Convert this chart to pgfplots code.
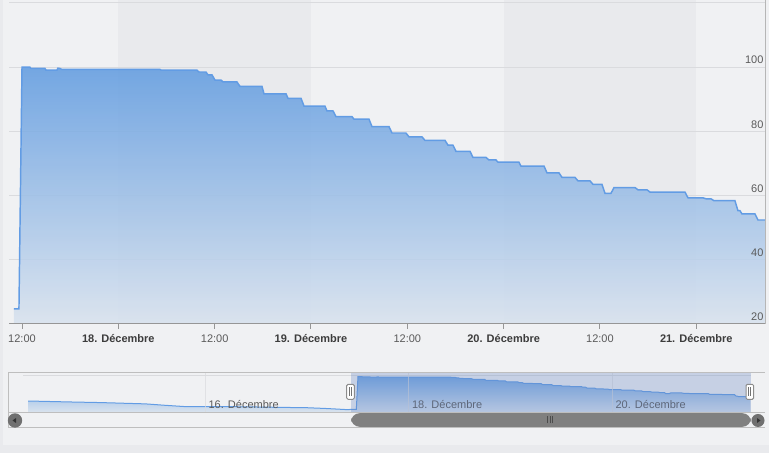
\documentclass[border=0pt]{standalone}
\usepackage{pgfplots}
\pgfplotsset{compat=1.18}
\usepackage{pgfplotstable}
\usepackage{fontspec}
\setmainfont{Liberation Sans}

\definecolor{bglight}{RGB}{240,241,243}
\definecolor{bgband}{RGB}{233,234,237}
\definecolor{gridc}{RGB}{218,219,222}
\definecolor{linec}{RGB}{98,156,228}
\definecolor{topc}{RGB}{94,154,224}
\definecolor{botc}{RGB}{216,226,238}
\definecolor{axisc}{RGB}{150,150,150}
\definecolor{labc}{RGB}{90,90,90}
\definecolor{boldc}{RGB}{60,60,60}
\definecolor{maskc}{RGB}{102,133,194}
\definecolor{scrollc}{RGB}{128,128,128}
\definecolor{btnc}{RGB}{112,112,112}
\definecolor{outc}{RGB}{190,190,190}

\newcommand{\fs}{\fontsize{8.25}{9.9}\selectfont}

% hours since 17 Dec 00:00, value
\pgfplotstableread{
h v
11.00 24.7
11.62 24.7
12.00 100
12.99 100
13.12 99.6
14.86 99.6
14.99 99.1
16.36 99.1
16.48 99.7
16.73 99.6
16.98 99.3
29.19 99.3
29.31 99.1
33.80 99.1
34.05 98.5
34.92 98.5
35.17 97.6
35.67 97.6
36.04 96.0
36.79 96.0
37.04 95.4
38.78 95.4
39.16 94.0
41.90 94.0
42.15 91.7
44.89 91.7
45.14 90.3
46.76 90.3
47.13 87.9
49.74 87.9
49.99 86.4
50.74 86.4
51.11 84.6
53.11 84.6
53.36 83.8
55.23 83.8
55.60 81.5
57.72 81.5
58.09 79.5
59.83 79.5
60.21 78.3
61.83 78.3
62.20 77.2
64.70 77.2
65.07 75.7
65.69 75.7
66.06 73.8
67.81 73.8
68.18 71.9
69.80 71.9
70.17 71.1
71.05 71.1
71.30 70.4
73.91 70.4
74.16 69.2
77.03 69.2
77.40 67.1
78.89 67.1
79.27 65.7
80.88 65.7
81.26 64.6
82.76 64.6
83.13 63.5
84.25 63.5
84.63 60.7
85.37 60.7
85.75 62.5
88.36 62.5
88.74 61.8
89.86 61.8
90.23 61.1
94.59 61.1
94.97 59.3
96.84 59.3
97.21 59.0
97.83 59.0
98.21 58.4
100.82 58.4
101.19 55.3
101.44 55.3
101.69 54.3
103.31 54.3
103.69 52.4
104.56 52.4
}\maintab

% earlier history, only seen in the navigator
\pgfplotstableread{
h v
-65.8 43.9
-55.0 41.5
-48.8 40.3
-38.2 37.3
-33.5 34.0
-28.8 31.0
-22.0 31.2
-14.0 30.4
-7.1 29.3
0.0 28.4
4.7 26.5
9.4 24.0
}\navtab
\pgfplotstablevertcat{\navtab}{\maintab}

\begin{document}
\begin{tikzpicture}
\begin{scope}[x=0.75pt,y=0.75pt]
\fill[bglight] (0,0) rectangle (769,453);
\fill[bgband] (118.3,129) rectangle (311.3,453);
\fill[bgband] (504.3,129) rectangle (696.3,453);
\fill[bgband] (0,0) rectangle (769,8);
\fill[bgband] (0,8) rectangle (3,453);
% horizontal grid of the main chart (40 ... 120)
\foreach \gy in {193.2,257.4,321.6,385.8,450}
  \draw[gridc, line width=0.75pt] (9,\gy) -- (765,\gy);
\draw[gridc, line width=0.75pt] (23,77) -- (751,77);
\end{scope}

% main chart
\begin{axis}[
    at={(6.75pt,96.75pt)}, anchor=south west, scale only axis,
    width=567pt, height=240.75pt,
    xmin=10.38, xmax=104.56, ymin=20, ymax=120,
    axis on top,
    axis line style={draw=none},
    ytick={20,40,...,120},
    yticklabel pos=right,
    ytick style={draw=none},
    yticklabel style={anchor=south east, inner sep=0pt, xshift=-4.75pt, yshift=2.25pt,
                      text=labc, font=\fs},
    /pgf/number format/assume math mode=true,
    xtick={12,24,...,96},
    xticklabels={12:00, \textbf{\color{boldc}18. Décembre}, 12:00,
                 \textbf{\color{boldc}19. Décembre}, 12:00,
                 \textbf{\color{boldc}20. Décembre}, 12:00,
                 \textbf{\color{boldc}21. Décembre}},
    xtick pos=bottom, tick align=outside, major tick length=3.75pt,
    xtick style={axisc, line width=0.75pt},
    xticklabel style={text=labc, font=\fs, anchor=base, inner sep=0pt, yshift=-10.5pt},
]
\addplot[draw=none, top color=topc, bottom color=botc, fill opacity=0.85]
    table[x=h, y=v] {\maintab} -- (axis cs:104.56,20) -- (axis cs:11.0,20) -- cycle;
\addplot[linec, line width=1.1pt] table[x=h, y=v] {\maintab};
\end{axis}

% navigator
\begin{axis}[
    at={(17.25pt,30.225pt)}, anchor=south west, scale only axis,
    width=546pt, height=29.55pt,
    xmin=-67, xmax=104.7, ymin=16.9, ymax=107.9,
    axis on top,
    axis line style={draw=none},
    ytick=\empty,
    xtick={-24,24,72},
    xticklabels={16. Décembre, 18. Décembre, 20. Décembre},
    xmajorgrids, grid style={gridc, line width=0.6pt, opacity=0.7},
    major tick length=0pt,
    xticklabel style={text=labc, font=\fs, anchor=base west, inner sep=0pt,
                      xshift=2.25pt, yshift=2.8pt},
]
\addplot[draw=none, top color=topc, bottom color=botc, fill opacity=0.85]
    table[x=h, y=v] {\navtab} -- (axis cs:104.56,16.9) -- (axis cs:-65.8,16.9) -- cycle;
\addplot[linec, line width=0.75pt] table[x=h, y=v] {\navtab};
\end{axis}

\begin{scope}[x=0.75pt,y=0.75pt]
\draw[axisc, line width=0.75pt] (9,129) -- (765,129);
\draw[axisc!70, line width=0.75pt] (765,129) -- (765,453);
\fill[maskc, opacity=0.3] (351,40.3) rectangle (751,80);
\draw[outc, line width=0.75pt] (8,80) -- (765,80);
\draw[outc, line width=0.75pt] (8,40.3) -- (765,40.3);
\draw[outc, line width=0.75pt] (8,25.7) -- (765,25.7);
\draw[outc, line width=0.75pt] (8,25.7) -- (8,80);

% scrollbar
\fill[scrollc, rounded corners=6.5] (351,26.2) rectangle (751,39.8);
\foreach \xx in {547.5,550,552.5} \draw[black!70, line width=0.75pt] (\xx,29.5) -- (\xx,36.5);
\fill[btnc] (15,32.5) circle (7.2);
\fill[black!80] (12.5,32.5) -- (16,35) -- (16,30) -- cycle;
\fill[btnc] (758,32.5) circle (6.5);
\fill[black!80] (760.5,32.5) -- (757,35) -- (757,30) -- cycle;

% handles
\foreach \hx in {346.7,746} {
  \filldraw[fill=white, draw=black!45, line width=0.75pt, rounded corners=1]
      (\hx,53.7) rectangle (\hx+7.6,68.7);
  \draw[black!55, line width=0.75pt] (\hx+2.8,57) -- (\hx+2.8,65.5);
  \draw[black!55, line width=0.75pt] (\hx+4.8,57) -- (\hx+4.8,65.5);
}
\pgfresetboundingbox
\useasboundingbox (0,0) rectangle (769,453);
\end{scope}
\end{tikzpicture}
\end{document}
